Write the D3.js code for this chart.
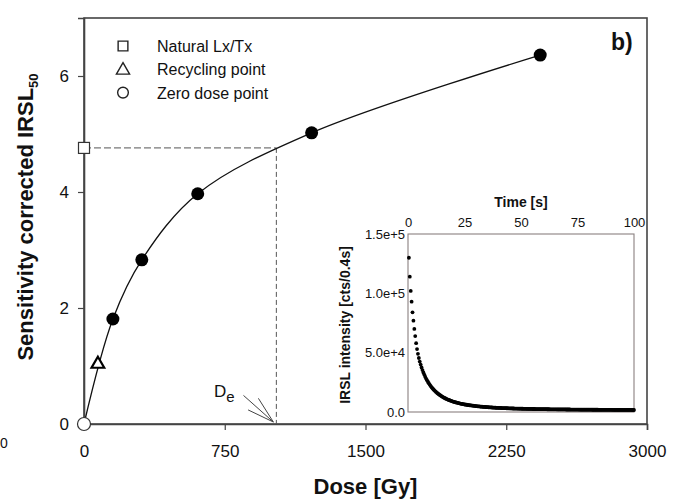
<!DOCTYPE html>
<html lang="en">
<head>
<meta charset="utf-8">
<title>IRSL dose response</title>
<style>
    body { margin: 0; background: #fff; }
    svg text { font-family: "Liberation Sans", Arial, sans-serif; fill: #111; }
    .axis path, .axis line { stroke: #444; }
</style>
</head>
<body>
<svg id="chart" width="683" height="500"></svg>
<script src="https://d3js.org/d3.v7.min.js"></script>
<script>
// dose response (main plot)
var regenDose = [154, 308, 606, 1213, 2431];
var regenLxTx = [1.81, 2.83, 3.97, 5.02, 6.36];
var recycleDose = [74], recycleLxTx = [1.05];
var zeroDose = [0], zeroLxTx = [0];
var naturalLxTx = 4.76;
var deValue = 1025;
var doseTicks = [0, 750, 1500, 2250, 3000];
var lxtxTicks = [0, 2, 4, 6];
var legendLabels = ['Natural Lx/Tx', 'Recycling point', 'Zero dose point'];

// IRSL decay curve (inset), kcts per 0.4 s channel
var channelWidth = 0.4;
var decayKcts = [
    130, 114, 102, 93, 84, 77, 70, 64, 58, 53,
    49, 45.5, 42.5, 40, 37.5, 35.3, 33.3, 31.5, 29.8, 28.2,
    26.8, 25.5, 24.3, 23.1, 22.0, 21.0, 20.1, 19.2, 18.4, 17.6,
    16.9, 16.2, 15.6, 15.0, 14.4, 13.9, 13.4, 12.9, 12.4, 12.0,
    11.6, 11.2, 10.8, 10.5, 10.2, 9.9, 9.6, 9.3, 9.0, 8.8,
    8.5, 8.3, 8.1, 7.9, 7.7, 7.5, 7.3, 7.1, 6.9, 6.8,
    6.6, 6.5, 6.3, 6.2, 6.1, 5.9, 5.8, 5.7, 5.6, 5.5,
    5.4, 5.3, 5.2, 5.1, 5.0, 4.9, 4.8, 4.75, 4.7, 4.6,
    4.5, 4.45, 4.4, 4.3, 4.25, 4.2, 4.1, 4.05, 4.0, 3.95,
    3.9, 3.85, 3.8, 3.75, 3.7, 3.65, 3.6, 3.56, 3.52, 3.48,
    3.44, 3.4, 3.36, 3.33, 3.3, 3.26, 3.23, 3.2, 3.17, 3.14,
    3.11, 3.08, 3.05, 3.03, 3.0, 2.97, 2.95, 2.92, 2.9, 2.88,
    2.85, 2.83, 2.81, 2.79, 2.77, 2.75, 2.73, 2.71, 2.69, 2.67,
    2.65, 2.63, 2.62, 2.6, 2.58, 2.57, 2.55, 2.54, 2.52, 2.51,
    2.49, 2.48, 2.46, 2.45, 2.44, 2.42, 2.41, 2.4, 2.39, 2.37,
    2.36, 2.35, 2.34, 2.33, 2.32, 2.3, 2.29, 2.28, 2.27, 2.26,
    2.25, 2.24, 2.23, 2.22, 2.21, 2.2, 2.19, 2.18, 2.17, 2.16,
    2.15, 2.14, 2.14, 2.13, 2.12, 2.11, 2.1, 2.09, 2.09, 2.08,
    2.07, 2.06, 2.06, 2.05, 2.04, 2.03, 2.03, 2.02, 2.01, 2.0,
    2.0, 1.99, 1.98, 1.98, 1.97, 1.96, 1.96, 1.95, 1.94, 1.94,
    1.93, 1.93, 1.92, 1.91, 1.91, 1.9, 1.9, 1.89, 1.88, 1.88,
    1.87, 1.87, 1.86, 1.86, 1.85, 1.85, 1.84, 1.84, 1.83, 1.83,
    1.82, 1.82, 1.81, 1.81, 1.8, 1.8, 1.79, 1.79, 1.78, 1.78,
    1.77, 1.77, 1.77, 1.76, 1.76, 1.75, 1.75, 1.74, 1.74, 1.74,
    1.73, 1.73, 1.72, 1.72, 1.72, 1.71, 1.71, 1.7, 1.7, 1.7
];
var timeTicks = [0, 25, 50, 75, 100];
var intensityTicks = [0, 5e4, 1e5, 1.5e5];
var intensityLabels = ['0.0', '5.0e+4', '1.0e+5', '1.5e+5'];

var svg = d3.select('#chart');
svg.append('rect').attr('width', 683).attr('height', 500).attr('fill', '#fff');

var x = d3.scaleLinear().domain([0, 3000]).range([84, 647]);
var y = d3.scaleLinear().domain([0, 7]).range([424, 18]);

// frame
svg.append('rect')
    .attr('x', x(0)).attr('y', y(7))
    .attr('width', x(3000) - x(0)).attr('height', y(0) - y(7))
    .attr('fill', 'none').attr('stroke', '#444').attr('stroke-width', 1.6);

// axes
var xAxis = svg.append('g').attr('class', 'axis')
    .attr('transform', 'translate(0,' + y(0) + ')')
    .call(d3.axisBottom(x).tickValues(doseTicks).tickSize(6).tickPadding(15).tickFormat(d3.format('d')));
var yAxis = svg.append('g').attr('class', 'axis')
    .attr('transform', 'translate(' + x(0) + ',0)')
    .call(d3.axisLeft(y).tickValues(lxtxTicks).tickSize(6).tickPadding(9).tickFormat(d3.format('d')));
[xAxis, yAxis].forEach(function(a) {
    a.select('.domain').attr('stroke-width', 1.6);
    a.selectAll('.tick line').attr('stroke-width', 1.2);
    a.selectAll('text').style('font-size', '17px').attr('fill', '#111');
});

// axis titles
svg.append('text')
    .attr('x', (x(0) + x(3000)) / 2).attr('y', 494)
    .attr('text-anchor', 'middle')
    .style('font-size', '22px').style('font-weight', 'bold')
    .text('Dose [Gy]');

var yt = svg.append('text')
    .attr('transform', 'translate(33,' + ((y(0) + y(7)) / 2 - 4) + ') rotate(-90)')
    .attr('text-anchor', 'middle')
    .style('font-size', '22px').style('font-weight', 'bold');
yt.append('tspan').text('Sensitivity corrected IRSL');
yt.append('tspan').attr('dy', 5).style('font-size', '13px').text('50');

// stray glyph from the neighbouring panel
svg.append('text').attr('x', 0).attr('y', 448).style('font-size', '14px').attr('fill', '#444').text('0');

// De dashed guide lines
svg.append('line')
    .attr('x1', x(0)).attr('y1', y(naturalLxTx))
    .attr('x2', x(deValue)).attr('y2', y(naturalLxTx))
    .attr('stroke', '#555').attr('stroke-width', 1).attr('stroke-dasharray', '7,3');
svg.append('line')
    .attr('x1', x(deValue)).attr('y1', y(naturalLxTx))
    .attr('x2', x(deValue)).attr('y2', y(0))
    .attr('stroke', '#555').attr('stroke-width', 1).attr('stroke-dasharray', '5,3');

// growth curve through the measured points
var curvePts = zeroDose.map(function(d, i) { return [d, zeroLxTx[i]]; })
    .concat(regenDose.map(function(d, i) { return [d, regenLxTx[i]]; }));
svg.append('path')
    .datum(curvePts)
    .attr('fill', 'none').attr('stroke', '#111').attr('stroke-width', 1.3)
    .attr('d', d3.line()
        .x(function(d) { return x(d[0]); })
        .y(function(d) { return y(d[1]); })
        .curve(d3.curveCatmullRom.alpha(0.5)));

// regenerated points
svg.selectAll('circle.regen')
    .data(regenDose)
    .enter().append('circle')
    .attr('class', 'regen')
    .attr('cx', function(d) { return x(d); })
    .attr('cy', function(d, i) { return y(regenLxTx[i]); })
    .attr('r', 6.5)
    .attr('fill', '#000');

var sym = d3.symbol().type(d3.symbolTriangle).size(70);
svg.selectAll('path.recycle')
    .data(recycleDose)
    .enter().append('path')
    .attr('class', 'recycle')
    .attr('transform', function(d, i) { return 'translate(' + x(d) + ',' + (y(recycleLxTx[i]) + 1) + ')'; })
    .attr('d', sym)
    .attr('fill', '#fff').attr('stroke', '#000').attr('stroke-width', 2.2);

svg.selectAll('circle.zero')
    .data(zeroDose)
    .enter().append('circle')
    .attr('class', 'zero')
    .attr('cx', function(d) { return x(d); })
    .attr('cy', function(d, i) { return y(zeroLxTx[i]); })
    .attr('r', 6.5)
    .attr('fill', '#fff').attr('stroke', '#333').attr('stroke-width', 1.2);

svg.append('rect')
    .attr('x', x(0) - 5.5).attr('y', y(naturalLxTx) - 5.5)
    .attr('width', 11).attr('height', 11)
    .attr('fill', '#fff').attr('stroke', '#333').attr('stroke-width', 1.2);

// De arrow
var tip = [x(deValue) - 3, y(0) - 2];
var ang = Math.atan2(395 - tip[1], 243 - tip[0]);
svg.append('line')
    .attr('x1', tip[0] + 40 * Math.cos(ang)).attr('y1', tip[1] + 40 * Math.sin(ang))
    .attr('x2', tip[0]).attr('y2', tip[1])
    .attr('stroke', '#444').attr('stroke-width', 1);
[-0.28, 0.28].forEach(function(da) {
    svg.append('line')
        .attr('x1', tip[0]).attr('y1', tip[1])
        .attr('x2', tip[0] + 28 * Math.cos(ang + da)).attr('y2', tip[1] + 28 * Math.sin(ang + da))
        .attr('stroke', '#444').attr('stroke-width', 1);
});
var de = svg.append('text').attr('x', 214).attr('y', 397).style('font-size', '17px');
de.append('tspan').text('D');
de.append('tspan').attr('dy', 5).style('font-size', '15px').text('e');

// panel tag
svg.append('text').attr('x', 611).attr('y', 50)
    .style('font-size', '23px').style('font-weight', 'bold').text('b)');

// legend
var legendShapes = [d3.symbolSquare, d3.symbolTriangle, d3.symbolCircle];
var legendSizes = [95, 75, 90];
var legend = svg.append('g').attr('transform', 'translate(123,46)');
legendLabels.forEach(function(lbl, i) {
    var g = legend.append('g').attr('transform', 'translate(0,' + (i * 23.3) + ')');
    g.append('path')
        .attr('d', d3.symbol().type(legendShapes[i]).size(legendSizes[i]))
        .attr('transform', 'translate(0,' + (i === 1 ? 1 : 0) + ')')
        .attr('fill', 'none').attr('stroke', '#222').attr('stroke-width', 1.4);
    g.append('text').attr('x', 34).attr('y', 6).style('font-size', '16px').text(lbl);
});

// ---- inset: IRSL decay ----
var ix = d3.scaleLinear().domain([0, 100]).range([408, 634]);
var iy = d3.scaleLinear().domain([0, 1.5e5]).range([412, 234]);

svg.append('rect')
    .attr('x', ix(0)).attr('y', iy(1.5e5))
    .attr('width', ix(100) - ix(0)).attr('height', iy(0) - iy(1.5e5))
    .attr('fill', '#fff').attr('stroke', '#8a8080').attr('stroke-width', 1.1);

var ixAxis = svg.append('g')
    .attr('transform', 'translate(0,' + iy(1.5e5) + ')')
    .call(d3.axisTop(ix).tickValues(timeTicks).tickSize(0).tickPadding(7));
var iyAxis = svg.append('g')
    .attr('transform', 'translate(' + ix(0) + ',0)')
    .call(d3.axisLeft(iy).tickValues(intensityTicks).tickSize(0).tickPadding(3)
        .tickFormat(function(d, i) { return intensityLabels[i]; }));
[ixAxis, iyAxis].forEach(function(a) {
    a.select('.domain').remove();
    a.selectAll('text').style('font-size', '13px').attr('fill', '#222');
});

svg.append('text')
    .attr('x', (ix(0) + ix(100)) / 2).attr('y', 207)
    .attr('text-anchor', 'middle')
    .style('font-size', '14px').style('font-weight', 'bold')
    .text('Time [s]');
svg.append('text')
    .attr('transform', 'translate(350,' + ((iy(0) + iy(1.5e5)) / 2 + 2) + ') rotate(-90)')
    .attr('text-anchor', 'middle')
    .style('font-size', '14px').style('font-weight', 'bold')
    .text('IRSL intensity [cts/0.4s]');

svg.append('g').selectAll('circle')
    .data(decayKcts)
    .enter().append('circle')
    .attr('cx', function(d, i) { return ix((i + 1) * channelWidth); })
    .attr('cy', function(d) { return iy(d * 1000); })
    .attr('r', 1.9)
    .attr('fill', '#000');
</script>
</body>
</html>
